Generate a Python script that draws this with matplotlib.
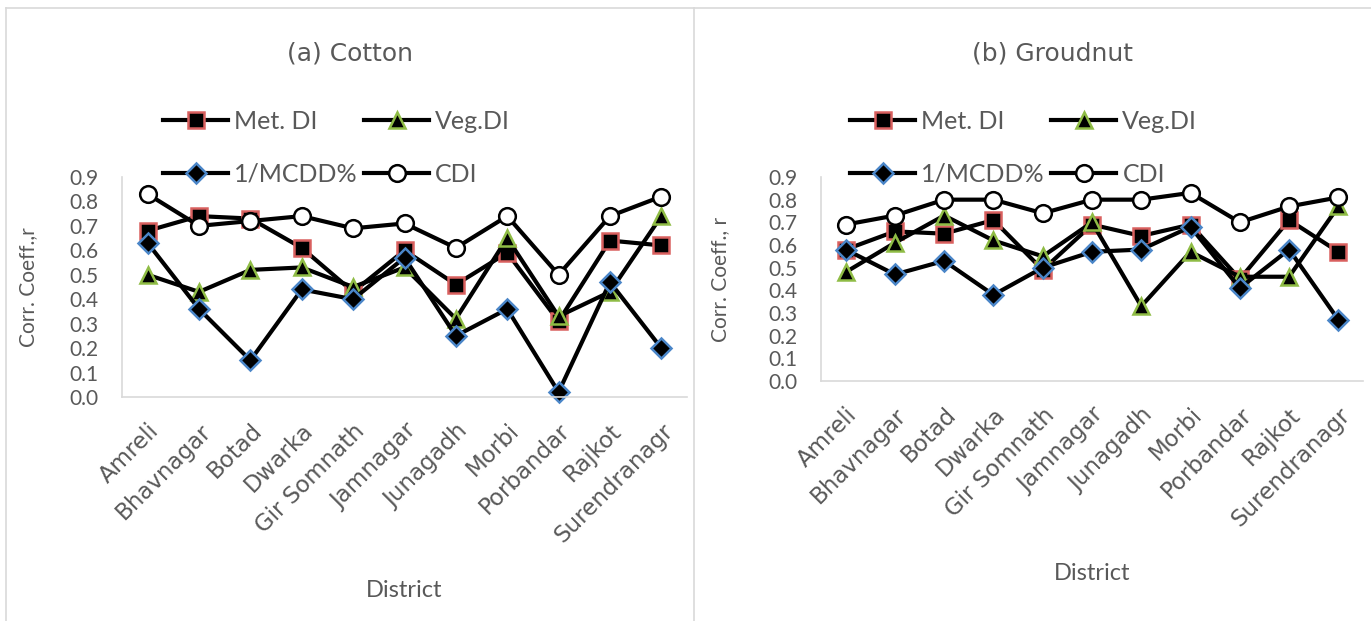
import matplotlib.pyplot as plt
from matplotlib.lines import Line2D

# Districts (x categories)
districts = ['Amreli', 'Bhavnagar', 'Botad', 'Dwarka', 'Gir Somnath', 'Jamnagar',
             'Junagadh', 'Morbi', 'Porbandar', 'Rajkot', 'Surendranagr']

# (a) Cotton
cotton_met = [0.68, 0.74, 0.73, 0.61, 0.43, 0.60, 0.46, 0.59, 0.31, 0.64, 0.62]
cotton_veg = [0.50, 0.43, 0.52, 0.53, 0.45, 0.53, 0.32, 0.65, 0.33, 0.43, 0.74]
cotton_mcdd = [0.63, 0.36, 0.15, 0.44, 0.40, 0.57, 0.25, 0.36, 0.02, 0.47, 0.20]
cotton_cdi = [0.83, 0.70, 0.72, 0.74, 0.69, 0.71, 0.61, 0.74, 0.50, 0.74, 0.82]

# (b) Groundnut
gnut_met = [0.58, 0.66, 0.65, 0.71, 0.49, 0.69, 0.64, 0.69, 0.45, 0.71, 0.57]
gnut_veg = [0.48, 0.61, 0.73, 0.62, 0.55, 0.70, 0.33, 0.57, 0.46, 0.46, 0.77]
gnut_mcdd = [0.58, 0.47, 0.53, 0.38, 0.50, 0.57, 0.58, 0.68, 0.41, 0.58, 0.27]
gnut_cdi = [0.69, 0.73, 0.80, 0.80, 0.74, 0.80, 0.80, 0.83, 0.70, 0.77, 0.81]

yticks = [0.0, 0.1, 0.2, 0.3, 0.4, 0.5, 0.6, 0.7, 0.8, 0.9]

GREY = '#595959'
SPINE = '#d9d9d9'
styles = {
    'Met. DI': dict(marker='s', mfc='black', mec='#d9605f', ms=12),
    'Veg.DI': dict(marker='^', mfc='black', mec='#8fbc45', ms=12),
    '1/MCDD%': dict(marker='D', mfc='black', mec='#4a86c8', ms=10),
    'CDI': dict(marker='o', mfc='white', mec='black', ms=12),
}

fig = plt.figure(figsize=(13.71, 6.21), dpi=100)

# panel borders
fig.add_artist(Line2D([6 / 1371, 6 / 1371], [0, 1 - 8 / 621], color=SPINE, lw=1.2))
fig.add_artist(Line2D([6 / 1371, 1], [1 - 8 / 621, 1 - 8 / 621], color=SPINE, lw=1.2))
fig.add_artist(Line2D([694 / 1371, 694 / 1371], [0, 1 - 8 / 621], color=SPINE, lw=1.2))

panels = [
    dict(rect=[122 / 1371, 224 / 621, 565 / 1371, 220 / 621],
         data=[cotton_met, cotton_veg, cotton_mcdd, cotton_cdi],
         title='(a) Cotton', tx=350, ylabel='Corr. Coeff.,r', ylx=-0.149,
         xly=-0.832, legx=163),
    dict(rect=[821 / 1371, 240 / 621, 542 / 1371, 204 / 621],
         data=[gnut_met, gnut_veg, gnut_mcdd, gnut_cdi],
         title='(b) Groudnut', tx=1052, ylabel='Corr. Coeff., r', ylx=-0.168,
         xly=-0.892, legx=850),
]

for p in panels:
    ax = fig.add_axes(p['rect'])
    x = list(range(len(districts)))
    handles = {}
    for name, vals in zip(styles.keys(), p['data']):
        st = styles[name]
        ln, = ax.plot(x, vals, color='black', lw=3, marker=st['marker'],
                      markersize=st['ms'], markerfacecolor=st['mfc'],
                      markeredgecolor=st['mec'], markeredgewidth=1.8,
                      label=name, clip_on=False)
        handles[name] = ln
    ax.set_xlim(-0.5, len(districts) - 0.5)
    ax.set_ylim(0, 0.9)
    ax.set_yticks(yticks)
    ax.set_yticklabels([f'{v:.1f}' for v in yticks])
    ax.set_xticks(x)
    ax.set_xticklabels(districts, rotation=45, ha='right', va='top',
                       rotation_mode='anchor', fontsize=16.5,
                       family='DejaVu Sans', color=GREY)
    for lab in ax.get_yticklabels():
        lab.set_fontfamily('Lato')
        lab.set_fontsize(15)
        lab.set_color(GREY)
    ax.tick_params(axis='y', length=0, pad=17)
    ax.tick_params(axis='x', length=0, pad=16)
    for s in ['top', 'right']:
        ax.spines[s].set_visible(False)
    for s in ['left', 'bottom']:
        ax.spines[s].set_color(SPINE)
        ax.spines[s].set_linewidth(1.2)
    ax.set_ylabel(p['ylabel'], fontsize=15, family='Lato', color=GREY)
    ax.yaxis.set_label_coords(p['ylx'], 0.5)
    ax.set_xlabel('District', fontsize=17, family='Lato', color=GREY)
    ax.xaxis.set_label_coords(0.5, p['xly'])
    fig.text(p['tx'] / 1371, 1 - 53 / 621, p['title'], ha='center', va='center',
             fontsize=18, family='DejaVu Sans', color=GREY)
    order = ['Met. DI', '1/MCDD%', 'Veg.DI', 'CDI']
    ax.legend([handles[k] for k in order], order, ncol=2, frameon=False,
              loc='upper left', bbox_to_anchor=(p['legx'] / 1371, 1 - 110 / 621),
              bbox_transform=fig.transFigure, borderpad=0, borderaxespad=0,
              handlelength=2.6, handletextpad=0.25, columnspacing=0.25,
              labelspacing=1.2, prop=dict(family='Lato', size=18),
              labelcolor=GREY)

fig.savefig('out.png', dpi=100)
